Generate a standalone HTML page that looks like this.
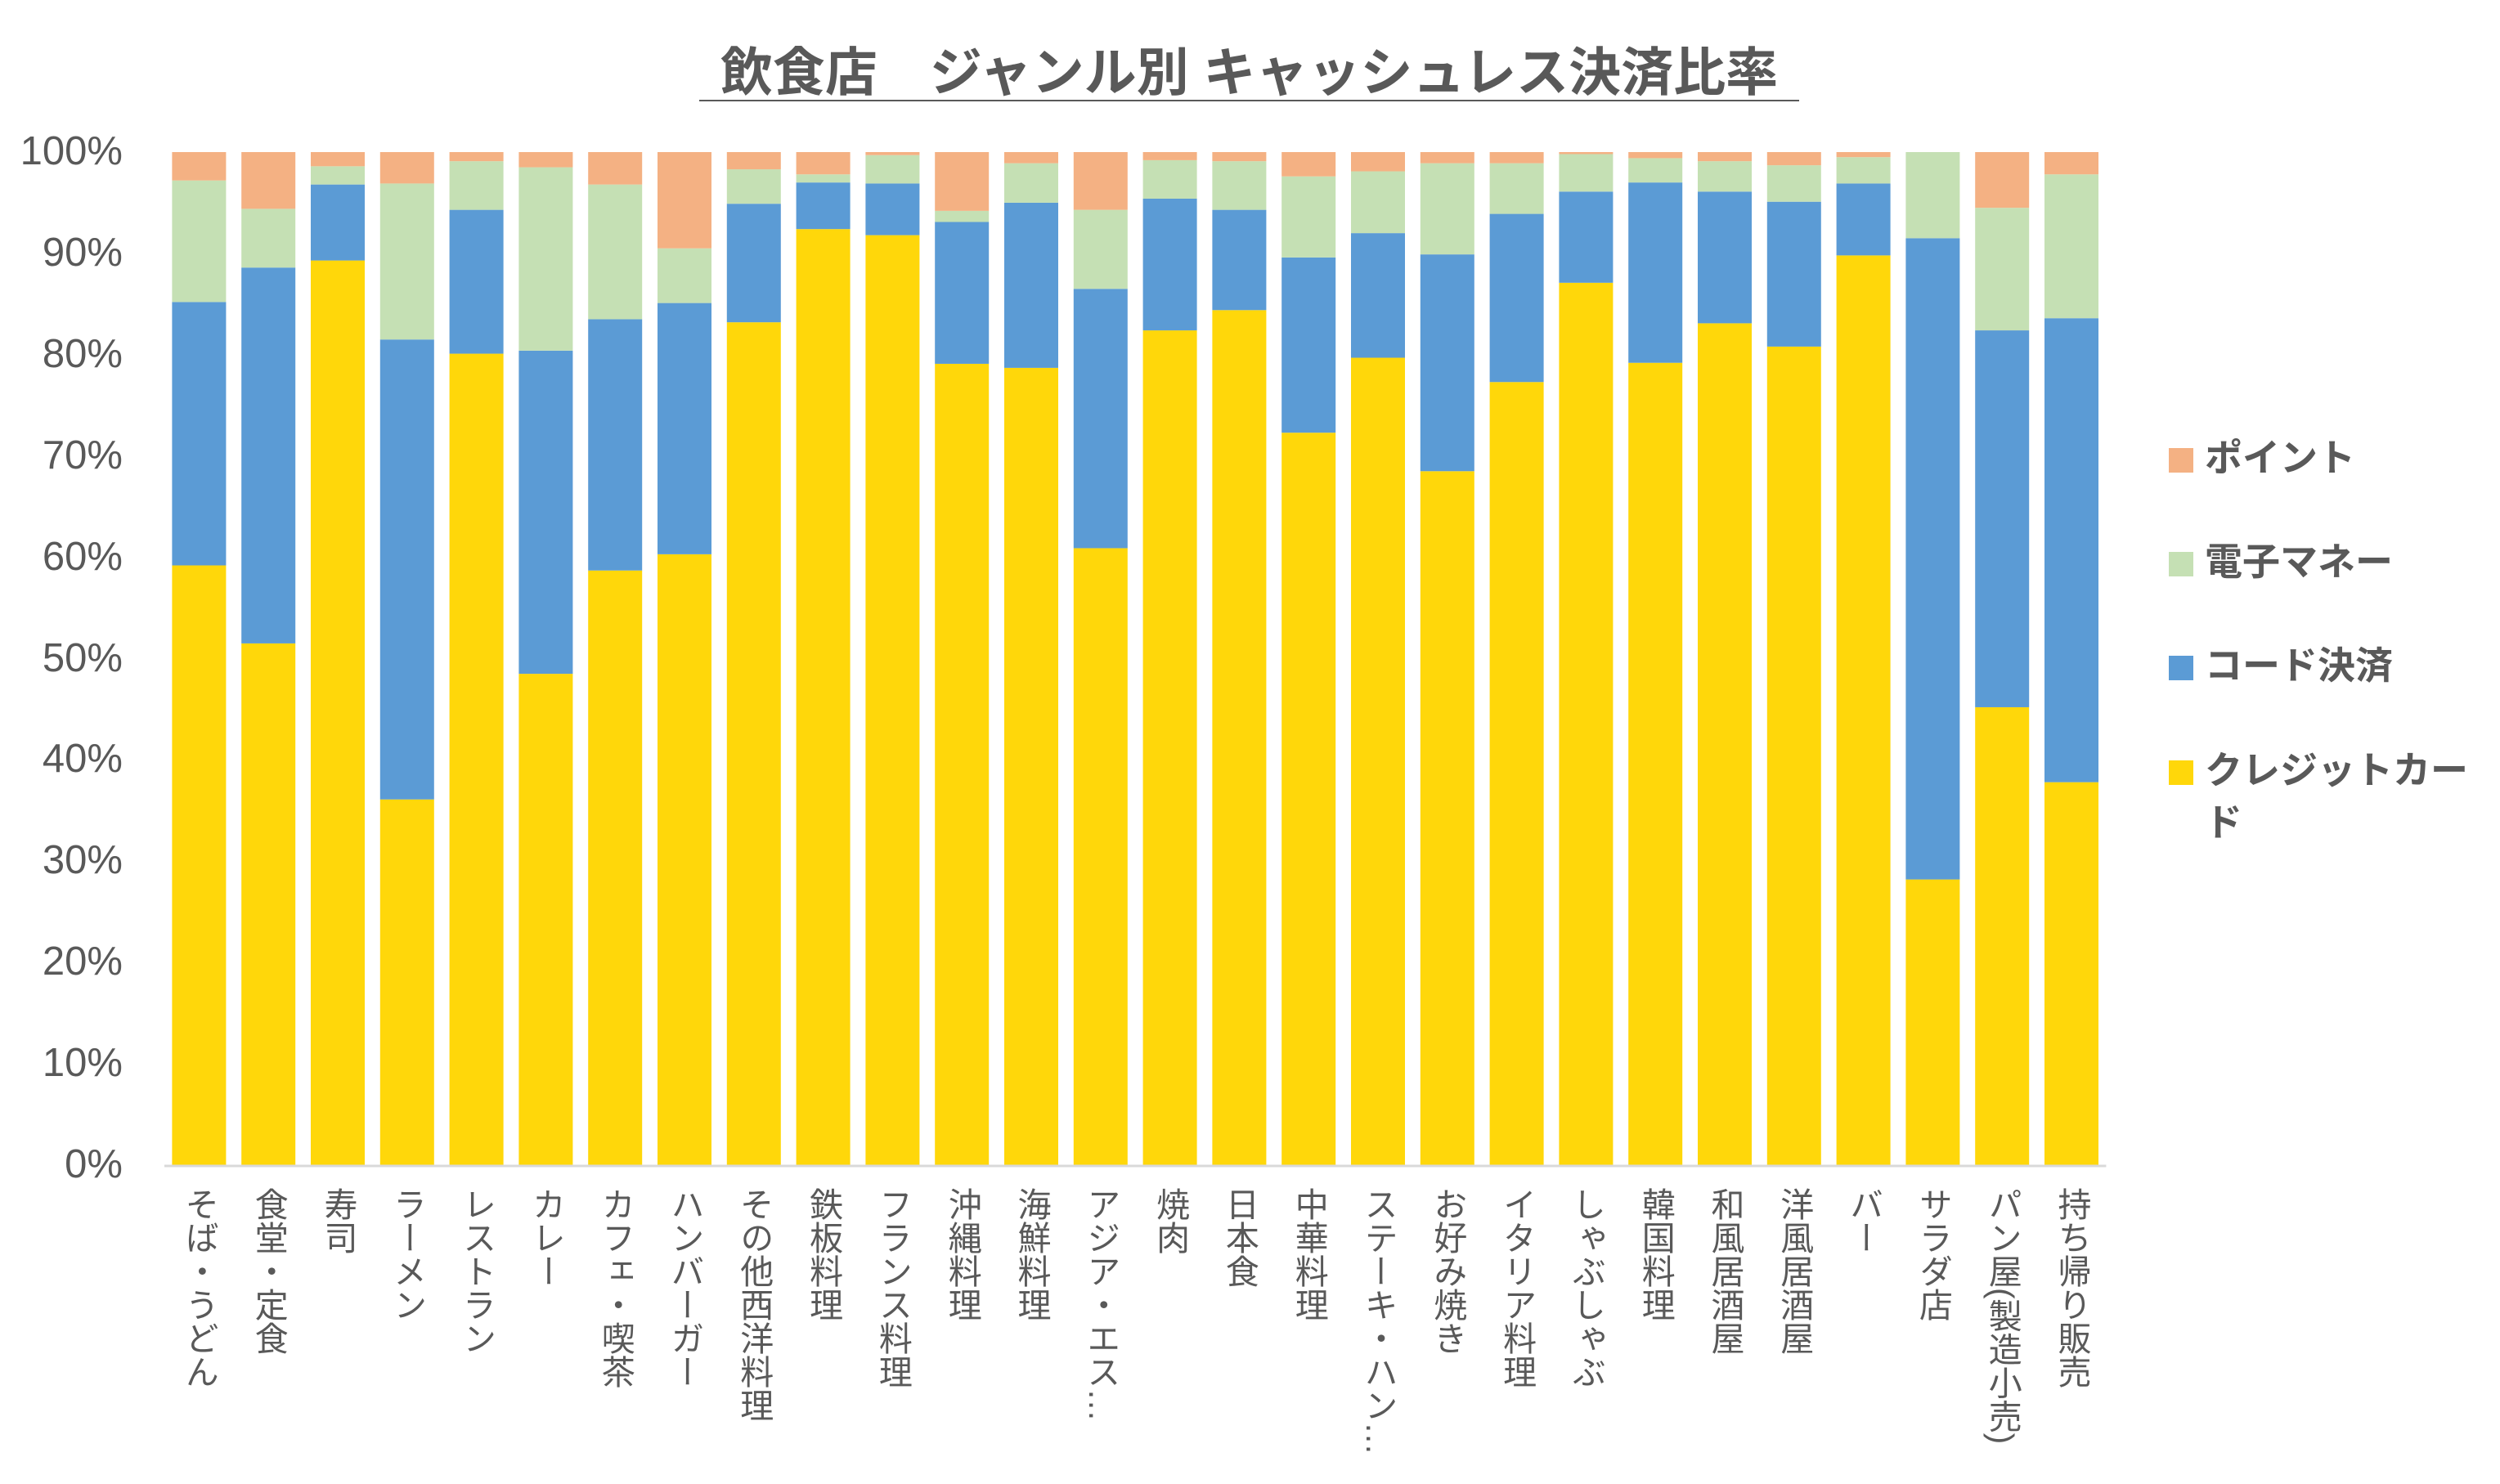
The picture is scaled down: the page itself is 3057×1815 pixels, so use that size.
<!DOCTYPE html>
<html><head><meta charset="utf-8">
<style>
html,body{margin:0;padding:0;background:#fff;}
#wrap{position:relative;width:3057px;height:1815px;overflow:hidden;font-family:"Liberation Sans","Noto Sans CJK JP",sans-serif;color:#595959;}
.xl{position:absolute;top:1452px;writing-mode:vertical-rl;font-size:41px;line-height:44px;width:44px;white-space:nowrap;color:#595959;}
.yl{position:absolute;right:2907px;font-size:49px;line-height:49px;color:#595959;text-align:right;}
#title{position:absolute;left:855px;width:1345px;top:56px;text-align:center;font-size:64px;font-weight:bold;color:#595959;border-bottom:2px solid #595959;line-height:66px;white-space:nowrap;}
.lg{position:absolute;left:2652px;font-size:46px;font-weight:bold;color:#595959;line-height:64px;}
.lg i{display:inline-block;width:30px;height:30px;margin-right:14px;vertical-align:-2px;}
</style></head><body>
<div id="wrap">
<div id="title">飲食店　ジャンル別 キャッシュレス決済比率</div>
<svg id="plot" width="3057" height="1815" style="position:absolute;left:0;top:0"></svg>
<div class="lg" style="top:528px"><i style="background:#F4B183"></i>ポイント</div>
<div class="lg" style="top:655px"><i style="background:#C5E0B4"></i>電子マネー</div>
<div class="lg" style="top:782px"><i style="background:#5B9BD5"></i>コード決済</div>
<div class="lg" style="top:910px;width:400px"><i style="background:#FFD70A"></i>クレジットカー<br><span style="margin-left:44px">ド</span></div>
</div>
<script>
const categories=["そば・うどん","食堂・定食","寿司","ラーメン","レストラン","カレー","カフェ・喫茶","ハンバーガー","その他西洋料理","鉄板料理","フランス料理","沖縄料理","海鮮料理","アジア・エス…","焼肉","日本食","中華料理","ステーキ・ハン…","お好み焼き","イタリア料理","しゃぶしゃぶ","韓国料理","和風居酒屋","洋風居酒屋","バー","サラダ店","パン屋(製造小売)","持ち帰り販売"];
const credit=[59.2,51.5,89.3,36.1,80.1,48.5,58.7,60.3,83.2,92.4,91.8,79.1,78.7,60.9,82.4,84.4,72.3,79.7,68.5,77.3,87.1,79.2,83.1,80.8,89.8,28.2,45.2,37.8];
const code=[26.0,37.1,7.5,45.4,14.2,31.9,24.8,24.8,11.7,4.6,5.1,14.0,16.3,25.6,13.0,9.9,17.3,12.3,21.4,16.6,9.0,17.8,13.0,14.3,7.1,63.3,37.2,45.8];
const emoney=[12.0,5.8,1.8,15.4,4.8,18.1,13.3,5.4,3.4,0.8,2.8,1.1,3.9,7.8,3.8,4.8,8.0,6.1,9.0,5.0,3.7,2.4,3.0,3.6,2.6,8.5,12.1,14.2];
const point=[2.8,5.6,1.4,3.1,0.9,1.5,3.2,9.5,1.7,2.2,0.3,5.8,1.1,5.7,0.8,0.9,2.4,1.9,1.1,1.1,0.2,0.6,0.9,1.3,0.5,0,5.5,2.2];
const yTicks=["0%","10%","20%","30%","40%","50%","60%","70%","80%","90%","100%"];
const series=[{v:credit,c:"#FFD70A",n:"credit"},{v:code,c:"#5B9BD5",n:"code"},{v:emoney,c:"#C5E0B4",n:"emoney"},{v:point,c:"#F4B183",n:"point"}];
const X0=201,BAND=84.8,BW=66,Y0=1425,YH=1239;
const ys=p=>Y0-p/100*YH;
const xs=i=>X0+i*BAND+(BAND-BW)/2;
const svg=document.getElementById('plot'),NS="http://www.w3.org/2000/svg",wrap=document.getElementById('wrap');
categories.forEach((cat,i)=>{
  let acc=0;
  series.forEach(s=>{
    const v=s.v[i];
    const r=document.createElementNS(NS,'rect');
    r.setAttribute('x',xs(i));r.setAttribute('width',BW);
    r.setAttribute('y',ys(acc+v));r.setAttribute('height',Math.max(0,ys(acc)-ys(acc+v)));
    r.setAttribute('fill',s.c);
    
    
    svg.appendChild(r);acc+=v;
  });
  const d=document.createElement('div');d.className='xl';
  d.style.left=(xs(i)+BW/2-22)+'px';d.textContent=cat;
  
  
  wrap.appendChild(d);
});
const ax=document.createElementNS(NS,'line');
ax.setAttribute('x1',X0);ax.setAttribute('x2',X0+categories.length*BAND);
ax.setAttribute('y1',Y0+1);ax.setAttribute('y2',Y0+1);ax.setAttribute('stroke','#D9D9D9');ax.setAttribute('stroke-width','3');


svg.appendChild(ax);
yTicks.forEach((t,k)=>{
  const d=document.createElement('div');d.className='yl';
  d.style.top=(ys(k*10)-25)+'px';d.textContent=t;
  
  
  wrap.appendChild(d);
});
</script>
</body></html>
